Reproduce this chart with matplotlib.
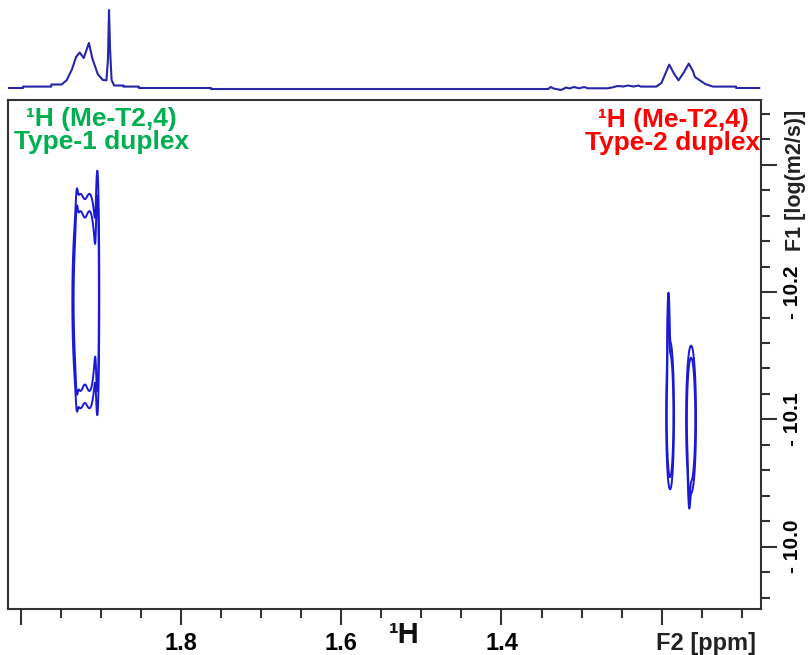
import numpy as np
import matplotlib
matplotlib.use('Agg')
import matplotlib.pyplot as plt

plt.rcParams['font.family'] = ['Liberation Sans', 'DejaVu Sans']
plt.rcParams['font.weight'] = 'bold'

# 1D projection trace (ppm, height above baseline)
trace_ppm = [2.0166, 1.9973, 1.9973, 1.962, 1.962, 1.949, 1.9426, 1.936, 1.931, 1.9266,
             1.9214, 1.915, 1.9105, 1.904, 1.8976, 1.8931, 1.8912, 1.8899, 1.8886, 1.8867,
             1.8835, 1.872, 1.872, 1.8526, 1.8526, 1.7627, 1.7627, 1.3416, 1.3385, 1.335,
             1.3256, 1.3192, 1.315, 1.3096, 1.303, 1.2967, 1.292, 1.2678, 1.262, 1.255,
             1.248, 1.242, 1.235, 1.229, 1.226, 1.2067, 1.2003, 1.195, 1.1906, 1.185,
             1.179, 1.172, 1.1662, 1.161, 1.1585, 1.1456, 1.136, 1.1071, 1.1071, 1.0782]
trace_int = [1, 1, 2.4, 2.4, 4.5, 4.5, 9, 20, 32, 36.5,
             31, 46, 30, 15, 9, 8.7, 30, 79, 40, 9,
             3.5, 3.5, 2.4, 2.4, 1, 1, 0, 0, 2, 0.5,
             -1, 1.5, 0.5, 2, 0.7, 2, 0.7, 0.7, 1.5, 3,
             2.5, 3.5, 2.5, 3.5, 2.4, 2.4, 6, 16, 24.4, 16,
             8.7, 17, 25.4, 18, 12, 5, 2.4, 2.4, 1, 1]

# DOSY cross peaks: F2 shift (ppm), F1 log D, widths, relative amplitude
peak_ppm = [1.926, 1.914, 1.9045, 1.930, 1.1895, 1.1915, 1.1633, 1.1655]
peak_logd = [-10.193, -10.193, -10.20, -10.195, -10.103, -10.16, -10.10, -10.065]
peak_sx = [0.0045, 0.0045, 0.0012, 0.0010, 0.0023, 0.0008, 0.0029, 0.0008]
peak_sy = [0.039, 0.039, 0.050, 0.040, 0.027, 0.022, 0.027, 0.018]
peak_amp = [1.0, 1.0, 0.6, 0.5, 1.0, 0.5, 1.0, 0.5]
levels = [0.1, 0.2]

x_major = [2.0, 1.8, 1.6, 1.4, 1.2]
x_major_labels = ['', '1.8', '1.6', '1.4', '']
y_major = [-10.3, -10.2, -10.1, -10.0]
y_major_labels = ['', '- 10.2', '- 10.1', '- 10.0']

xlim = (2.016, 1.076)
ylim = (-9.951, -10.351)

fig = plt.figure(figsize=(8.09, 6.55), dpi=100)
ax = fig.add_axes([8/809, 46/655, 753/809, 509/655])
ax1d = fig.add_axes([8/809, 1 - 97/655, 753/809, 97/655])

# top projection
ax1d.plot(trace_ppm, trace_int, color='#2626a8', lw=1.5)
ax1d.set_xlim(xlim)
ax1d.set_ylim(-8, 89)
ax1d.axis('off')

# contour map
xg = np.linspace(1.076, 2.016, 3200)
yg = np.linspace(-10.352, -9.95, 500)
X, Y = np.meshgrid(xg, yg)
Z = np.zeros_like(X)
for x0, y0, sx, sy, a in zip(peak_ppm, peak_logd, peak_sx, peak_sy, peak_amp):
    Z += a * np.exp(-0.5 * ((X - x0) / sx) ** 2 - 0.5 * ((Y - y0) / sy) ** 2)
ax.contour(X, Y, Z, levels=levels, colors='#1a1ad6', linewidths=1.4)

ax.set_xlim(xlim)
ax.set_ylim(ylim)

for s in ax.spines.values():
    s.set_color('#333333')
    s.set_linewidth(1.5)

ax.set_xticks(x_major)
ax.set_xticklabels(x_major_labels, fontsize=17, fontweight='bold')
ax.set_xticks(np.arange(1.1, 2.01, 0.05), minor=True)
ax.yaxis.tick_right()
ax.set_yticks(y_major)
ax.set_yticklabels(y_major_labels, fontsize=15, fontweight='bold', rotation=90, va='center')
ax.set_yticks(np.arange(-10.34, -9.959, 0.02), minor=True)
ax.tick_params(which='major', length=11.5, width=1.5, color='#333333', pad=5)
ax.tick_params(which='minor', length=6.5, width=1.5, color='#333333')
ax.tick_params(axis='y', which='major', pad=4)

ax.text(1.1446, -0.067, 'F2 [ppm]', transform=ax.get_xaxis_transform(),
        ha='center', va='center', fontsize=17, fontweight='bold', color='#222222')
ax.text(1.521, -0.052, '¹H', transform=ax.get_xaxis_transform(),
        ha='center', va='center', fontsize=21, fontweight='bold', color='#111111')
ax.text(1.046, -10.288, 'F1 [log(m2/s)]', transform=ax.get_yaxis_transform(),
        ha='center', va='center', rotation=90, fontsize=15.5, fontweight='bold', color='#222222')

ax.text(1.899, -10.327, '¹H (Me-T2,4)\nType-1 duplex', ha='center', va='center',
        multialignment='center', fontsize=19, fontweight='bold', color='#00b050', linespacing=0.95)
ax.text(1.1858, -10.326, '¹H (Me-T2,4)\nType-2 duplex', ha='center', va='center',
        multialignment='center', fontsize=19, fontweight='bold', color='#ff0000', linespacing=0.95)

fig.savefig('out.png', dpi=100)
